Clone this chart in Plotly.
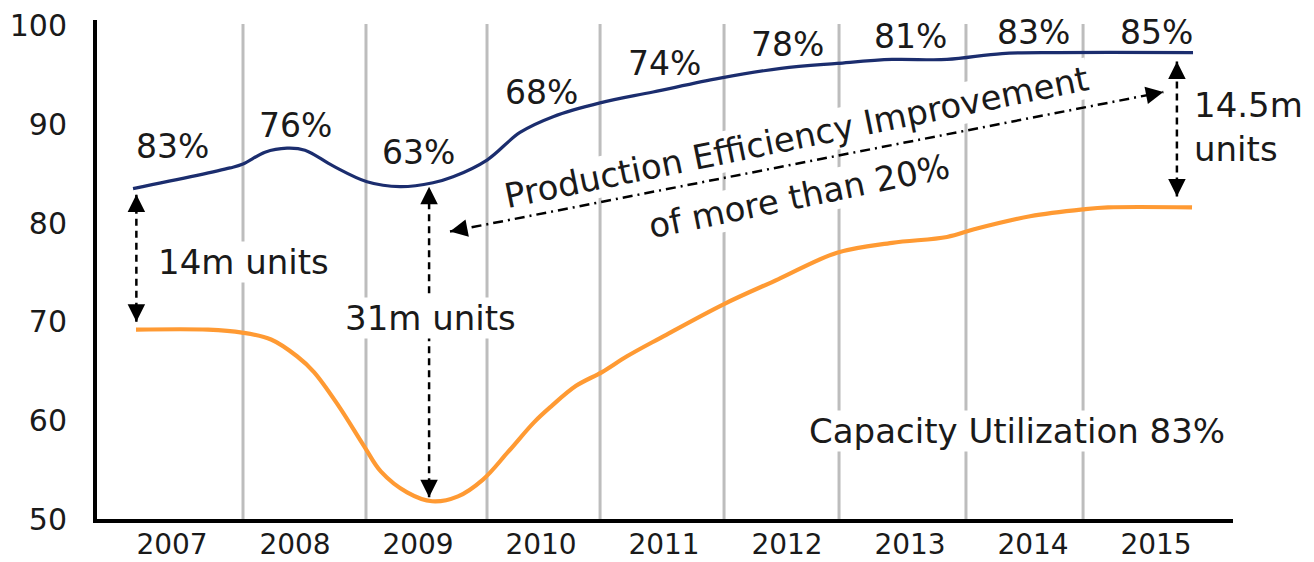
import plotly.graph_objects as go

# ---------------- data ----------------
years = [2007, 2008, 2009, 2010, 2011, 2012, 2013, 2014, 2015]
year_labels = ["2007", "2008", "2009", "2010", "2011", "2012", "2013", "2014", "2015"]
y_ticks = [50, 60, 70, 80, 90, 100]

# capacity (navy line)
capacity_x = [2006.683, 2007.472, 2007.577, 2007.756, 2007.935, 2008.081, 2008.309,
              2008.585, 2008.854, 2009.122, 2009.285, 2009.561, 2009.829, 2010.098,
              2010.480, 2010.911, 2011.455, 2011.951, 2012.407, 2012.854, 2013.301,
              2013.748, 2014.203, 2015.301]
capacity_y = [83.5, 85.6, 86.0, 87.2, 87.6, 87.4, 85.8,
              84.2, 83.7, 84.1, 84.7, 86.4, 89.2, 90.8,
              92.2, 93.3, 94.7, 95.7, 96.2, 96.6, 96.6,
              97.2, 97.3, 97.3]

# production (orange line)
production_x = [2006.707, 2007.293, 2007.569, 2007.805, 2008.016, 2008.154, 2008.358,
                2008.561, 2008.699, 2008.911, 2009.114, 2009.325, 2009.528, 2009.732,
                2009.943, 2010.081, 2010.285, 2010.496, 2010.699, 2010.976, 2011.488,
                2011.927, 2012.407, 2012.854, 2013.301, 2013.528, 2013.976, 2014.407,
                2014.610, 2015.293]
production_y = [69.2, 69.2, 68.9, 68.2, 66.5, 64.9, 61.4,
                57.4, 54.8, 52.7, 51.8, 52.3, 54.0, 56.8,
                59.8, 61.4, 63.5, 64.9, 66.5, 68.4, 71.8,
                74.3, 77.0, 78.0, 78.6, 79.4, 80.7, 81.4,
                81.6, 81.6]

# yearly capacity utilization labels
utilization_labels = ["83%", "76%", "63%", "68%", "74%", "78%", "81%", "83%", "85%"]
utilization_label_y = [87.75, 89.9, 87.2, 93.2, 96.2, 98.1, 98.9, 99.3, 99.3]

# vertical grey separators between years
year_dividers = [2007.577, 2008.577, 2009.561, 2010.480, 2011.488, 2012.423, 2013.455, 2014.407]

# ---------------- styling ----------------
FONT = "DejaVu Sans"
TXT = "#1a1a1a"
NAVY = "#1b2d6e"
ORANGE = "#ff9a33"
GRID = "#bdbdbd"

fig = go.Figure()

fig.add_trace(go.Scatter(x=capacity_x, y=capacity_y, mode="lines",
                         line=dict(color=NAVY, width=3.2, shape="spline", smoothing=1.0),
                         hoverinfo="skip", showlegend=False))
fig.add_trace(go.Scatter(x=production_x, y=production_y, mode="lines",
                         line=dict(color=ORANGE, width=4.2, shape="spline", smoothing=1.0),
                         hoverinfo="skip", showlegend=False))

shapes = []
for xd in year_dividers:
    shapes.append(dict(type="line", xref="x", yref="y", x0=xd, x1=xd, y0=50, y1=100.2,
                       line=dict(color=GRID, width=3), layer="below"))

# dashed measurement lines (tip to tip)
arrows = [
    # (x0, y0, x1, y1, dash)
    (2006.71, 70.0, 2006.71, 82.9, "7px,5px"),
    (2009.09, 52.2, 2009.09, 83.7, "7px,5px"),
    (2015.17, 82.7, 2015.17, 96.4, "7px,5px"),
    (2009.26, 79.15, 2015.06, 93.3, "10px,5px,2px,5px"),
]
for x0, y0, x1, y1, d in arrows:
    shapes.append(dict(type="line", xref="x", yref="y", x0=x0, y0=y0, x1=x1, y1=y1,
                       line=dict(color="black", width=2.5, dash=d), layer="above"))

annotations = []


def head(xt, yt, xo, yo, frac):
    """arrowhead at (xt, yt) pointing away from (xo, yo)"""
    annotations.append(dict(x=xt, y=yt, xref="x", yref="y",
                            ax=xt + frac * (xo - xt), ay=yt + frac * (yo - yt),
                            axref="x", ayref="y", text="", showarrow=True,
                            arrowhead=2, arrowsize=1.4, arrowwidth=2.5,
                            arrowcolor="black", standoff=0, startstandoff=0))


for x0, y0, x1, y1, d in arrows:
    length = ((x1 - x0) * 123) ** 2 + ((y1 - y0) * 9.86) ** 2
    frac = 10.0 / (length ** 0.5)
    head(x0, y0, x1, y1, frac)
    head(x1, y1, x0, y0, frac)

# yearly percentage labels
for yr, lab, ly in zip(years, utilization_labels, utilization_label_y):
    annotations.append(dict(x=yr, y=ly, xref="x", yref="y", text=lab, showarrow=False,
                            font=dict(family=FONT, size=33, color=TXT)))


def label(x, y, text, size=34, bg="white", angle=0, xanchor="center", align="center"):
    annotations.append(dict(x=x, y=y, xref="x", yref="y", text=text, showarrow=False,
                            font=dict(family=FONT, size=size, color=TXT),
                            bgcolor=bg, borderpad=0, textangle=angle,
                            xanchor=xanchor, align=align))


label(2007.58, 76.1, "14m units")
label(2009.10, 70.4, "31m units")
label(2013.87, 58.9, "Capacity Utilization 83%")
label(2015.30, 89.8, "14.5m<br>units", bg="rgba(0,0,0,0)", xanchor="left", align="left")
label(2012.08, 88.7, "Production Efficiency Improvement", size=34, angle=-11.5)
label(2012.10, 82.8, "of more than 20%", size=34, angle=-11.5)

fig.update_layout(
    width=1314, height=562,
    margin=dict(l=97, r=81, t=20, b=43, autoexpand=False),
    paper_bgcolor="white", plot_bgcolor="white",
    shapes=shapes, annotations=annotations,
    showlegend=False,
    font=dict(family=FONT, color=TXT),
)
fig.update_xaxes(range=[2006.39, 2015.626], tickvals=years, ticktext=year_labels,
                 showgrid=False, zeroline=False, showline=True, linecolor="black",
                 linewidth=4, ticks="", ticklabelstandoff=-3, automargin=False,
                 tickfont=dict(family=FONT, size=28, color=TXT))
fig.update_yaxes(range=[50, 100.6], tickvals=y_ticks, ticktext=[str(v) for v in y_ticks],
                 showgrid=False, zeroline=False, showline=True, linecolor="black",
                 linewidth=4, ticks="", ticklabelstandoff=20, automargin=False,
                 tickfont=dict(family=FONT, size=30, color=TXT))

fig.write_html("out.html", config={"displayModeBar": False},
               post_script="document.body.style.margin='0';document.body.style.overflow='hidden';")
